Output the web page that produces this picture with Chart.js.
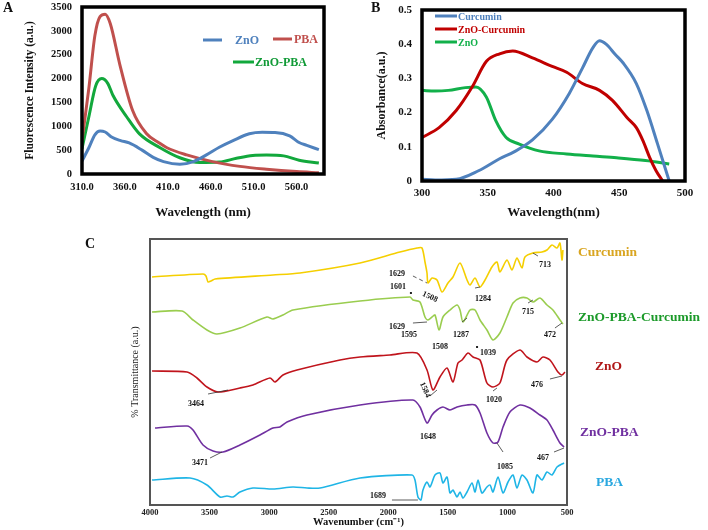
<!DOCTYPE html>
<html>
<head>
<meta charset="utf-8">
<script src="https://cdn.jsdelivr.net/npm/chart.js@4.4.1/dist/chart.umd.min.js"></script>
<style>
  body { margin: 0; background: #fff; width: 708px; height: 530px; position: relative; overflow: hidden; }
  canvas { position: absolute; }
  .tag { position: absolute; font: bold 14px "Liberation Serif", serif; color: #111; }
</style>
</head>
<body>
<canvas id="chartA" width="330" height="222" style="left:0;top:0"></canvas>
<canvas id="chartB" width="378" height="222" style="left:330px;top:0"></canvas>
<canvas id="chartC" width="708" height="305" style="left:0;top:225px"></canvas>
<div class="tag" style="left:3px;top:0">A</div>
<div class="tag" style="left:371px;top:0">B</div>
<div class="tag" style="left:85px;top:236px">C</div>

<script>
// ---- panel A : fluorescence (wavelength nm, intensity a.u.)
const fluorTicks = [310, 360, 410, 460, 510, 560];
const fluorZnO = [[310,270],[318,550],[325,820],[331,900],[337,880],[345,770],[355,700],[365,650],[380,500],
  [393,350],[405,260],[424,205],[440,260],[455,400],[470,560],[486,700],[505,843],[520,875],[535,870],
  [552,800],[563,660],[572,600],[586,510]];
const fluorPBA = [[310,700],[318,1800],[325,2900],[331,3300],[337,3350],[343,3150],[354,2300],[369,1330],
  [385,850],[400,650],[409,550],[432,400],[462,260],[494,160],[525,100],[560,50],[586,25]];
const fluorZnOPBA = [[310,530],[318,1200],[326,1850],[333,2000],[340,1900],[346,1650],[362,1200],[377,840],
  [401,550],[424,340],[447,240],[470,250],[490,330],[509,390],[525,400],[545,380],[563,290],[586,230]];

// ---- panel B : UV-vis absorbance
const absCurcumin = [[300,0.005],[310,0.003],[326,0.005],[343,0.03],[359,0.065],[370,0.085],[384,0.12],
  [399,0.18],[412,0.256],[422,0.33],[430,0.39],[435,0.41],[440,0.4],[447,0.37],[453,0.345],[463,0.285],
  [471,0.206],[479,0.11],[488,0]];
const absZnOCurcumin = [[300,0.127],[313,0.156],[326,0.206],[338,0.274],[349,0.35],[359,0.372],[369,0.38],
  [384,0.36],[399,0.335],[410,0.318],[422,0.285],[435,0.265],[445,0.235],[456,0.185],[463,0.156],
  [468,0.118],[473,0.07],[478,0.03],[483,0]];
const absZnO = [[300,0.265],[310,0.263],[320,0.265],[333,0.273],[341,0.275],[349,0.245],[356,0.177],
  [364,0.127],[374,0.108],[389,0.088],[410,0.079],[430,0.073],[448,0.068],[470,0.06],[488,0.05]];

// ---- panel C : FTIR, stacked traces (wavenumber cm-1, transmittance a.u.)
const irCurcumin = [[3983,228],[3555,231],[3530,229],[3513,223],[3488,224],[3454,226],[2968,230],[2741,232],
  [2237,242],[1902,253],[1759,257],[1717,257],[1692,243],[1675,232],[1667,222],[1633,227],[1591,225],
  [1549,213],[1499,222],[1457,228],[1398,242],[1339,225],[1314,220],[1272,227],[1230,218],[1188,225],
  [1130,238],[1088,243],[1063,233],[1004,245],[962,235],[920,247],[878,237],[853,248],[786,252],[710,253],
  [668,255],[626,260],[584,257],[559,262],[542,245],[534,255]];
const irZnOPBACurcumin = [[3983,193],[3731,194],[3639,185],[3522,175],[3438,171],[3245,177],[3018,188],
  [2968,186],[2884,190],[2800,195],[2237,204],[1818,208],[1793,205],[1734,203],[1692,188],[1667,185],
  [1633,188],[1608,190],[1574,175],[1541,188],[1482,195],[1423,200],[1398,195],[1373,183],[1314,195],
  [1272,195],[1230,185],[1172,175],[1121,165],[1063,172],[1004,188],[953,202],[895,207],[836,207],
  [786,203],[727,207],[668,200],[618,195],[559,185],[534,181]];
const irZnO = [[3983,134],[3689,133],[3606,127],[3522,118],[3429,113],[3245,117],[3136,120],[2993,127],
  [2951,123],[2884,130],[2766,135],[2405,145],[2237,148],[1986,150],[1759,152],[1675,135],[1625,115],
  [1566,128],[1507,137],[1457,123],[1415,142],[1381,145],[1331,152],[1289,148],[1230,145],[1172,122],
  [1121,118],[1063,122],[1004,145],[895,155],[836,148],[752,143],[702,148],[643,145],[576,133],[542,130],
  [517,133]];
const irZnOPBA = [[3958,77],[3689,79],[3639,75],[3555,60],[3471,54],[3387,53],[3245,60],[3077,70],[2968,77],
  [2909,78],[2850,83],[2682,90],[2237,100],[1793,105],[1734,98],[1675,82],[1633,90],[1591,95],[1541,98],
  [1482,95],[1423,98],[1339,100],[1272,100],[1230,92],[1172,72],[1121,62],[1079,63],[1037,78],[979,93],
  [895,100],[811,97],[727,90],[668,85],[618,75],[559,62],[525,58]];
const irPBA = [[3983,25],[3664,27],[3522,20],[3412,8],[3354,9],[3303,8],[3245,13],[3136,17],[2968,16],
  [2800,18],[2682,17],[2573,17],[2237,27],[1801,30],[1776,25],[1751,8],[1726,5],[1709,15],[1675,23],
  [1650,18],[1608,30],[1566,32],[1541,22],[1507,28],[1482,12],[1457,15],[1423,8],[1398,13],[1373,7],
  [1339,13],[1297,22],[1272,13],[1247,25],[1214,12],[1172,18],[1146,20],[1121,13],[1079,28],[1037,12],
  [995,23],[953,30],[920,17],[878,30],[836,25],[786,12],[752,30],[710,25],[668,33],[626,30],[584,38],
  [525,42]];
const irTicks = [4000, 3500, 3000, 2500, 2000, 1500, 1000, 500];

// peak labels: text, anchor [wn, level], rotation, optional leader [wn1, l1, wn2, l2]
const irNotes = [
  { text: '1629', at: [1927,231], line: [1793,229,1675,222], dash: true },
  { text: '1601', at: [1918,218], dot: [1810,212] },
  { text: '1508', at: [1650,208], rot: 25 },
  { text: '1284', at: [1205,206], line: [1272,217,1230,218] },
  { text: '713',  at: [685,240],  line: [786,252,744,249] },
  { text: '715',  at: [827,193],  line: [827,202,786,205] },
  { text: '1629', at: [1927,178], line: [1793,182,1675,183] },
  { text: '1595', at: [1826,170] },
  { text: '1508', at: [1566,158] },
  { text: '1287', at: [1390,170], line: [1381,183,1339,187] },
  { text: '1039', at: [1163,152], dot: [1255,158] },
  { text: '472',  at: [643,170],  line: [601,177,542,182] },
  { text: '3464', at: [3614,101], line: [3513,111,3345,115] },
  { text: '1584', at: [1692,115], rot: 65, line: [1650,109,1591,115] },
  { text: '1020', at: [1113,105], line: [1121,114,1088,117] },
  { text: '476',  at: [752,120],  line: [643,126,542,129] },
  { text: '3471', at: [3580,42],  line: [3496,47,3396,53] },
  { text: '1648', at: [1667,68] },
  { text: '1085', at: [1021,38],  line: [1088,62,1037,53] },
  { text: '467',  at: [702,47],   line: [609,53,525,57] },
  { text: '1689', at: [2086,9],   line: [1969,5,1751,5] }
];

const serif = '"Liberation Serif", "Times New Roman", serif';
const toXY = pts => pts.map(([x, y]) => ({ x, y }));
// invisible grid with tick length gives the label gap without padding the plot top
const hiddenGrid = { display: true, color: 'transparent', drawOnChartArea: false, drawTicks: true, tickLength: 10 };

// thick box round the plot area
const framePlugin = {
  id: 'frame',
  afterDraw(chart, args, opts) {
    const { ctx, chartArea: a } = chart;
    ctx.save();
    ctx.strokeStyle = opts.color;
    ctx.lineWidth = opts.width;
    ctx.strokeRect(a.left, a.top, a.right - a.left, a.bottom - a.top);
    ctx.restore();
  }
};

// hand placed line+text legend like the original figure
const keyPlugin = {
  id: 'key',
  afterDraw(chart, args, opts) {
    const ctx = chart.ctx;
    ctx.save();
    ctx.font = opts.font;
    ctx.textBaseline = 'middle';
    chart.data.datasets.forEach((ds, i) => {
      const k = opts.items[i];
      ctx.strokeStyle = ds.borderColor;
      ctx.lineWidth = opts.lineWidth;
      ctx.beginPath();
      ctx.moveTo(k.x0, k.y);
      ctx.lineTo(k.x1, k.y);
      ctx.stroke();
      ctx.fillStyle = k.color || ds.borderColor;
      ctx.fillText(ds.label, k.tx, k.y + 1);
    });
    ctx.restore();
  }
};

// peak numbers + sample names for the FTIR panel
const notePlugin = {
  id: 'notes',
  afterDatasetsDraw(chart, args, opts) {
    const { ctx, scales: { x, y }, chartArea } = chart;
    ctx.save();
    ctx.textAlign = 'center';
    ctx.textBaseline = 'middle';
    irNotes.forEach(n => {
      ctx.strokeStyle = '#333';
      ctx.lineWidth = 0.8;
      if (n.line) {
        ctx.setLineDash(n.dash ? [4, 3] : []);
        ctx.beginPath();
        ctx.moveTo(x.getPixelForValue(n.line[0]), y.getPixelForValue(n.line[1]));
        ctx.lineTo(x.getPixelForValue(n.line[2]), y.getPixelForValue(n.line[3]));
        ctx.stroke();
        ctx.setLineDash([]);
      }
      if (n.dot) {
        ctx.fillStyle = '#222';
        ctx.fillRect(x.getPixelForValue(n.dot[0]) - 1, y.getPixelForValue(n.dot[1]) - 1, 2, 2);
      }
      ctx.save();
      ctx.translate(x.getPixelForValue(n.at[0]), y.getPixelForValue(n.at[1]));
      ctx.rotate((n.rot || 0) * Math.PI / 180);
      ctx.font = opts.noteFont;
      ctx.fillStyle = '#111';
      ctx.fillText(n.text, 0, 0);
      ctx.restore();
    });
    ctx.textAlign = 'left';
    ctx.font = opts.nameFont;
    chart.data.datasets.forEach(ds => {
      ctx.fillStyle = ds.nameColor;
      ctx.fillText(ds.label, chartArea.right + ds.nameAt.dx, y.getPixelForValue(ds.nameAt.y));
    });
    ctx.restore();
  }
};

// ---------- chart A
new Chart(document.getElementById('chartA'), {
  type: 'line',
  data: {
    datasets: [
      { label: 'ZnO', data: toXY(fluorZnO), borderColor: '#4f81bd' },
      { label: 'PBA', data: toXY(fluorPBA), borderColor: '#c0504d' },
      { label: 'ZnO-PBA', data: toXY(fluorZnOPBA), borderColor: '#12a83c' }
    ]
  },
  options: {
    responsive: false,
    animation: false,
    layout: { padding: { top: 7, right: 6, bottom: 0, left: 0 } },
    elements: {
      point: { radius: 0 },
      line: { borderWidth: 3, tension: 0.4, cubicInterpolationMode: 'monotone' }
    },
    scales: {
      x: {
        type: 'linear', min: 310, max: 592,
        afterBuildTicks: s => { s.ticks = fluorTicks.map(v => ({ value: v })); },
        afterFit: s => { s.height = 48; },
        grid: { display: false, drawTicks: false },
        border: { display: false },
        ticks: { padding: 7, color: '#111', font: { family: serif, size: 10.5, weight: 'bold' },
                 maxRotation: 0, callback: v => Number(v).toFixed(1) },
        title: { display: true, text: 'Wavelength (nm)', color: '#111', padding: { top: 0, bottom: 2 },
                 font: { family: serif, size: 13, weight: 'bold' } }
      },
      y: {
        min: 0, max: 3500,
        afterFit: s => { s.width = 82; },
        grid: hiddenGrid,
        border: { display: false },
        ticks: { stepSize: 500, padding: 0, color: '#111', font: { family: serif, size: 10.5, weight: 'bold' },
                 callback: v => String(v) },
        title: { display: true, text: 'Fluorescence Intensity (a.u.)', color: '#111', padding: { top: 23, bottom: 0 },
                 font: { family: serif, size: 11.5, weight: 'bold' } }
      }
    },
    plugins: {
      legend: { display: false },
      tooltip: { enabled: false },
      frame: { color: '#000', width: 3.5 },
      key: {
        font: 'bold 12px ' + serif, lineWidth: 3,
        items: [
          { x0: 203, x1: 222, tx: 235, y: 40 },
          { x0: 273, x1: 292, tx: 294, y: 39 },
          { x0: 233, x1: 254, tx: 255, y: 62, color: '#109a36' }
        ]
      }
    }
  },
  plugins: [framePlugin, keyPlugin]
});

// ---------- chart B
new Chart(document.getElementById('chartB'), {
  type: 'line',
  data: {
    datasets: [
      { label: 'Curcumin', data: toXY(absCurcumin), borderColor: '#4f81bd' },
      { label: 'ZnO-Curcumin', data: toXY(absZnOCurcumin), borderColor: '#c00000' },
      { label: 'ZnO', data: toXY(absZnO), borderColor: '#12b04a' }
    ]
  },
  options: {
    responsive: false,
    animation: false,
    layout: { padding: { top: 10, right: 23, bottom: 0, left: 0 } },
    elements: {
      point: { radius: 0 },
      line: { borderWidth: 3, tension: 0.4, cubicInterpolationMode: 'monotone' }
    },
    scales: {
      x: {
        type: 'linear', min: 300, max: 500,
        afterFit: s => { s.height = 41; },
        grid: { display: false, drawTicks: false },
        border: { display: false },
        ticks: { stepSize: 50, padding: 6, color: '#111', font: { family: serif, size: 11, weight: 'bold' }, maxRotation: 0 },
        title: { display: true, text: 'Wavelength(nm)', color: '#111', padding: { top: 0, bottom: 2 },
                 font: { family: serif, size: 13, weight: 'bold' } }
      },
      y: {
        min: 0, max: 0.5,
        afterFit: s => { s.width = 92; },
        grid: hiddenGrid,
        border: { display: false },
        ticks: { stepSize: 0.1, padding: 0, color: '#111', font: { family: serif, size: 11, weight: 'bold' } },
        title: { display: true, text: 'Absorbance(a.u.)', color: '#111', padding: { top: 45, bottom: 0 },
                 font: { family: serif, size: 12, weight: 'bold' } }
      }
    },
    plugins: {
      legend: { display: false },
      tooltip: { enabled: false },
      frame: { color: '#000', width: 3.5 },
      key: {
        font: 'bold 10px ' + serif, lineWidth: 3,
        items: [
          { x0: 105, x1: 127, tx: 128, y: 16 },
          { x0: 105, x1: 127, tx: 128, y: 29 },
          { x0: 105, x1: 127, tx: 128, y: 42 }
        ]
      }
    }
  },
  plugins: [framePlugin, keyPlugin]
});

// ---------- chart C
new Chart(document.getElementById('chartC'), {
  type: 'line',
  data: {
    datasets: [
      { label: 'Curcumin', data: toXY(irCurcumin), borderColor: '#f5cf00', nameColor: '#d9a520', nameAt: { dx: 11, y: 252 } },
      { label: 'ZnO-PBA-Curcumin', data: toXY(irZnOPBACurcumin), borderColor: '#9acd4f', nameColor: '#1c9a2a', nameAt: { dx: 11, y: 187 } },
      { label: 'ZnO', data: toXY(irZnO), borderColor: '#c0141c', nameColor: '#b01818', nameAt: { dx: 28, y: 138 } },
      { label: 'ZnO-PBA', data: toXY(irZnOPBA), borderColor: '#7030a0', nameColor: '#7030a0', nameAt: { dx: 13, y: 72 } },
      { label: 'PBA', data: toXY(irPBA), borderColor: '#1fb5e6', nameColor: '#2aa8e0', nameAt: { dx: 29, y: 22 } }
    ]
  },
  options: {
    responsive: false,
    animation: false,
    layout: { padding: { top: 14, right: 141, bottom: 0, left: 0 } },
    elements: {
      point: { radius: 0 },
      line: { borderWidth: 1.6, tension: 0.25 }
    },
    scales: {
      x: {
        type: 'linear', min: 500, max: 4000, reverse: true,
        afterBuildTicks: s => { s.ticks = irTicks.map(v => ({ value: v })); },
        afterFit: s => { s.height = 25; },
        grid: { display: false, drawTicks: false },
        border: { display: false },
        ticks: { padding: 3, color: '#222', font: { family: serif, size: 8.5, weight: 'bold' },
                 maxRotation: 0, autoSkip: false, callback: v => String(v) },
        title: { display: true, text: 'Wavenumber (cm\u207B\u00B9)', color: '#111', padding: { top: 0, bottom: 1 },
                 font: { family: serif, size: 10.5, weight: 'bold' } }
      },
      y: {
        min: 0, max: 266,
        afterFit: s => { s.width = 150; },
        grid: { display: false, drawTicks: false },
        border: { display: false },
        ticks: { display: false },
        title: { display: true, text: '% Transmittance (a.u.)', color: '#222', padding: { top: 129, bottom: 0 },
                 font: { family: serif, size: 10 } }
      }
    },
    plugins: {
      legend: { display: false },
      tooltip: { enabled: false },
      frame: { color: '#555', width: 2 },
      notes: { noteFont: 'bold 8px ' + serif, nameFont: 'bold 13.5px ' + serif }
    }
  },
  plugins: [framePlugin, notePlugin]
});
</script>
</body>
</html>
